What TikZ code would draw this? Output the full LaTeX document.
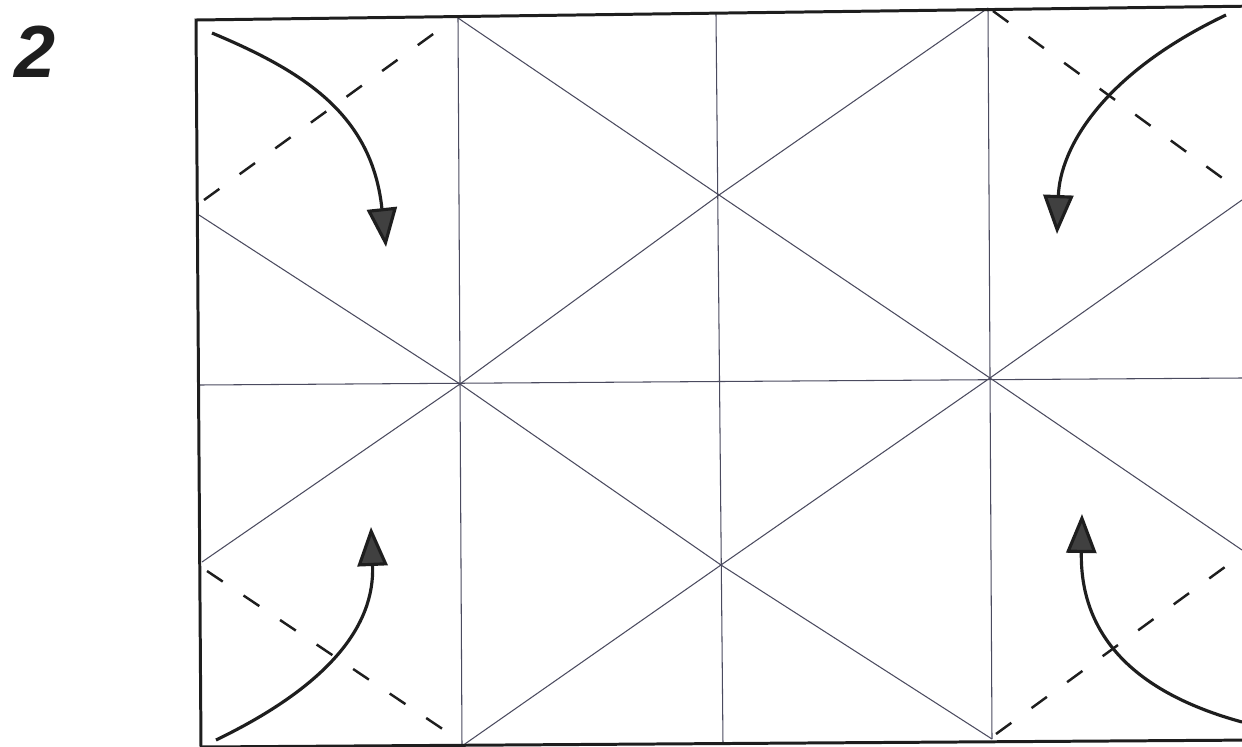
\documentclass[tikz,border=0pt]{standalone}
\usepackage{fontspec}
\setsansfont{Liberation Sans}
\usetikzlibrary{arrows.meta}
\definecolor{crease}{RGB}{75,75,95}
\definecolor{ink}{RGB}{30,30,30}
\tikzset{
  edge/.style={draw=ink, line width=1.7pt},
  creaseline/.style={draw=crease, line width=0.6pt},
  valley/.style={draw=ink, line width=1.4pt, dash pattern=on 0.38cm off 0.5cm},
  foldarrow/.style={draw=ink, line width=1.8pt, -{Triangle[length=0.78cm,width=0.6cm,fill=ink!85]}},
  steplabel/.style={font=\sffamily\bfseries\itshape\fontsize{42}{42}\selectfont, text=ink, inner sep=0pt}
}
\begin{document}
\begin{tikzpicture}[x=0.02cm, y=-0.02cm]
\useasboundingbox (0,0) rectangle (1242,747);
\clip (0,0) rectangle (1242,747);
% corners and edge points
\coordinate (TL) at (196,20);
\coordinate (TR) at (1260,6);
\coordinate (BR) at (1260,740);
\coordinate (BL) at (201,747);
\coordinate (T1) at (458,18);
\coordinate (T2) at (716,14);
\coordinate (T3) at (988,8);
\coordinate (B1) at (462,746);
\coordinate (B2) at (723,744);
\coordinate (B3) at (992,739);
\coordinate (L1) at (199,215);
\coordinate (L2) at (200,385);
\coordinate (L3) at (202,562);
\coordinate (R1) at (1242,200);
\coordinate (R2) at (1242,378);
\coordinate (R3) at (1242,550);
% interior vertices
\coordinate (P1) at (460,384);
\coordinate (P2) at (719,195);
\coordinate (P3) at (721,565);
\coordinate (P4) at (990,378);
% label
\node[steplabel, anchor=north west] (lab) at (14,26) {2};
% creases
\draw[creaseline] (T1) -- (B1);
\draw[creaseline] (T2) -- (B2);
\draw[creaseline] (T3) -- (B3);
\draw[creaseline] (L2) -- (R2);
\draw[creaseline] (L1) -- (P1) -- (P3) -- (B3);
\draw[creaseline] (T1) -- (P2) -- (P4) -- (R3);
\draw[creaseline] (L3) -- (P1) -- (P2) -- (T3);
\draw[creaseline] (B1) -- (P3) -- (P4) -- (R1);
% outer edge
\draw[edge] (TL) -- (TR) -- (BR) -- (BL) -- cycle;
% valley folds
\coordinate (d1a) at (204,200); \coordinate (d1b) at (447,24);
\coordinate (d2a) at (993,11); \coordinate (d2b) at (1236,188);
\coordinate (d3a) at (207,571); \coordinate (d3b) at (456,738);
\coordinate (d4a) at (996,734); \coordinate (d4b) at (1240,556);
\draw[valley] (d1a) -- (d1b);
\draw[valley] (d2a) -- (d2b);
\draw[valley] (d3a) -- (d3b);
\draw[valley] (d4a) -- (d4b);
% fold arrows
\coordinate (a1s) at (212,33);  \coordinate (a1e) at (386,247);
\coordinate (a2s) at (1226,15); \coordinate (a2e) at (1057,234);
\coordinate (a3s) at (216,740); \coordinate (a3e) at (371,527);
\coordinate (a4s) at (1242,722); \coordinate (a4e) at (1082,514);
\draw[foldarrow] (a1s) .. controls (305,72) and (372,115) .. (a1e);
\draw[foldarrow] (a2s) .. controls (1100,75) and (1060,150) .. (a2e);
\draw[foldarrow] (a3s) .. controls (330,685) and (375,625) .. (a3e);
\draw[foldarrow] (a4s) .. controls (1125,690) and (1080,628) .. (a4e);
\end{tikzpicture}
\end{document}
